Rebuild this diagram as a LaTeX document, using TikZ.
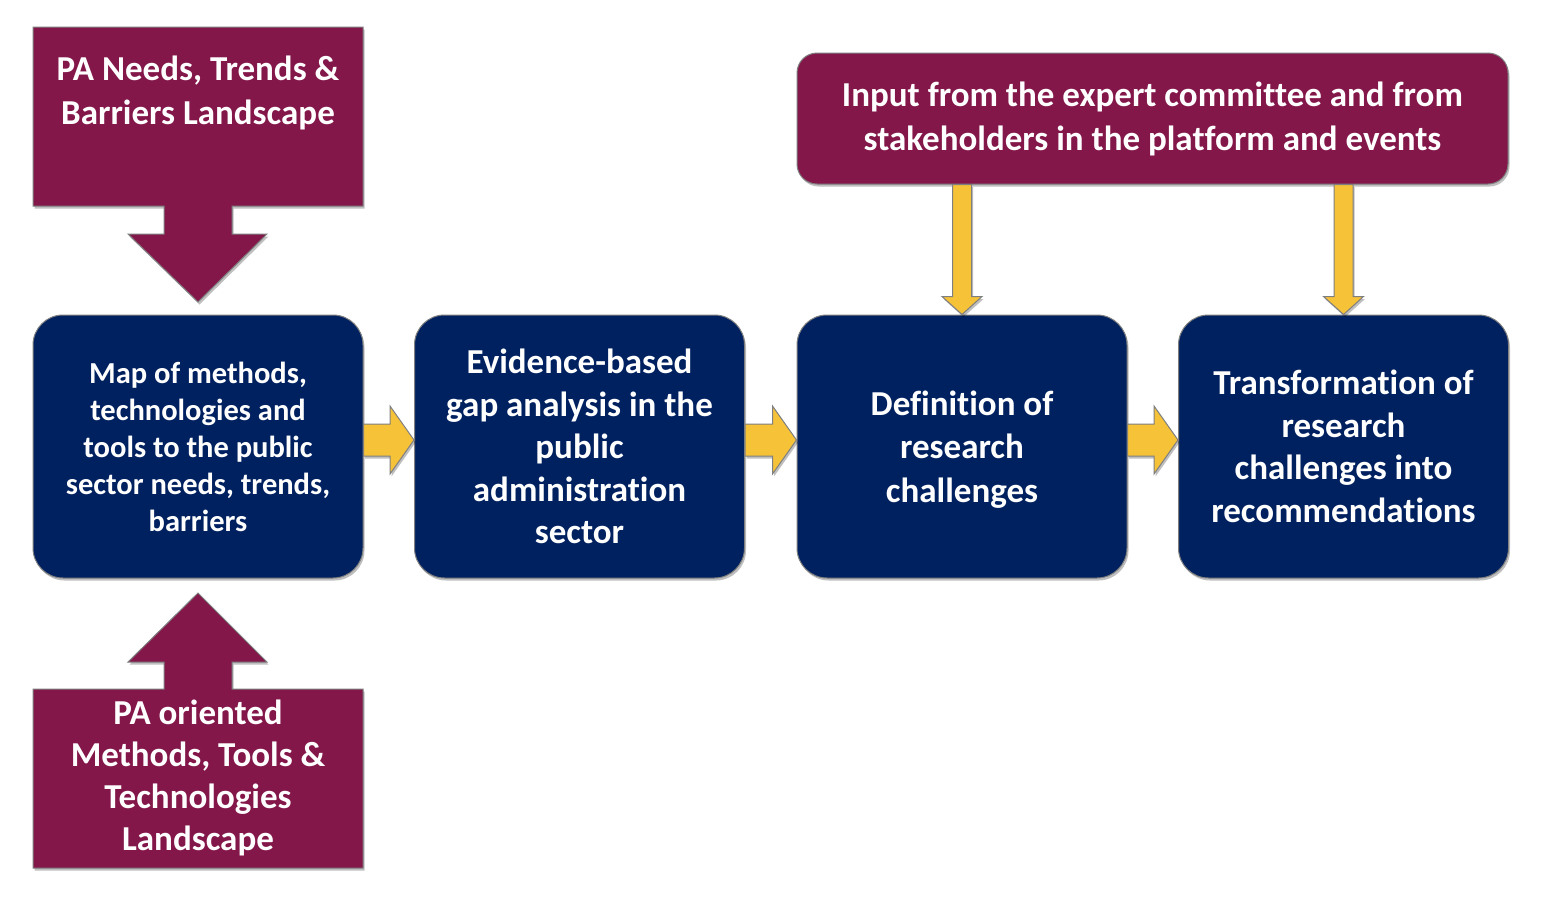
\documentclass[tikz,border=0pt]{standalone}
\usepackage{fontspec}
\setmainfont[Ligatures={NoCommon}]{Carlito}
\usetikzlibrary{calc,shadows}
\definecolor{maroon}{RGB}{131,23,74}
\definecolor{navy}{RGB}{0,33,96}
\definecolor{ygold}{RGB}{246,194,56}
\definecolor{edgegray}{RGB}{127,127,127}
\tikzset{
  shade/.style={drop shadow={shadow xshift=1.5pt,shadow yshift=-2.5pt,opacity=0.25,fill=black}},
  stepbox/.style={draw=edgegray,line width=1pt,fill=navy,rounded corners=30pt,
    minimum width=330pt,minimum height=263pt,text=white,align=center,font=\bfseries,shade},
  inputbox/.style={draw=edgegray,line width=1pt,fill=maroon,rounded corners=20pt,
    minimum width=711pt,minimum height=131pt,text=white,align=center,shade,
    font=\fontsize{35}{44}\selectfont\bfseries},
  callout/.style={draw=edgegray,line width=1pt,fill=maroon,shade},
  calltext/.style={text=white,align=center,font=\fontsize{35}{42}\selectfont\bfseries},
  yarrow/.style={draw=edgegray,line width=1pt,fill=ygold,shade},
}
\newcommand{\harrow}[2]{%
  \draw[yarrow] let \p1=([yshift=6.5pt]#1.east), \p2=(#2.west) in
    (\x1,\y1+16pt) -- (\x2-24pt,\y1+16pt) -- (\x2-24pt,\y1+34pt) -- (\x2,\y1)
    -- (\x2-24pt,\y1-34pt) -- (\x2-24pt,\y1-16pt) -- (\x1,\y1-16pt) -- cycle;}
\newcommand{\varrow}[2]{%
  \draw[yarrow] let \p1=(#2.north), \p2=(#1.south) in
    (\x1-9.5pt,\y2) -- (\x1-9.5pt,\y1+18pt) -- (\x1-20pt,\y1+18pt) -- (\x1,\y1)
    -- (\x1+20pt,\y1+18pt) -- (\x1+9.5pt,\y1+18pt) -- (\x1+9.5pt,\y2) -- cycle;}
\begin{document}
\begin{tikzpicture}[x=1pt,y=-1pt]
\useasboundingbox[fill=white] (0,0) rectangle (1542,898);
% callouts
\draw[callout] (33,27) -- (363,27) -- (363,206) -- (232,206) -- (232,234) -- (267,234)
  -- (198,302) -- (128,234) -- (164,234) -- (164,206) -- (33,206) -- cycle;
\node[calltext,font=\fontsize{35}{44}\selectfont\bfseries] (c1) at (198,93) {PA Needs, Trends \&\\Barriers Landscape};
\draw[callout] (33,868) -- (363,868) -- (363,689) -- (232,689) -- (232,662) -- (267,662)
  -- (198,593) -- (128,662) -- (164,662) -- (164,689) -- (33,689) -- cycle;
\node[calltext] (c2) at (198,778) {PA oriented\\Methods, Tools \&\\Technologies\\Landscape};
% steps
\node[stepbox,font=\fontsize{30.5}{37}\selectfont\bfseries] (b1) at (198,446.5)
  {Map of methods,\\technologies and\\tools to the public\\sector needs, trends,\\barriers};
\node[stepbox,font=\fontsize{35}{42.5}\selectfont\bfseries] (b2) at (579.5,446.5)
  {Evidence-based\\gap analysis in the\\public\\administration\\sector};
\node[stepbox,font=\fontsize{35}{43.5}\selectfont\bfseries,text depth=0pt] (b3) at (962,446.5)
  {Definition of\\research\\challenges};
\node[stepbox,font=\fontsize{35}{42.5}\selectfont\bfseries] (b4) at (1343.5,446.5)
  {Transformation of\\research\\challenges into\\recommendations};
% input box
\node[inputbox] (top) at (1152.5,118.5)
  {Input from the expert committee and from\\stakeholders in the platform and events};
% arrows
\harrow{b1}{b2}
\harrow{b2}{b3}
\harrow{b3}{b4}
\varrow{top}{b3}
\varrow{top}{b4}
\end{tikzpicture}
\end{document}
